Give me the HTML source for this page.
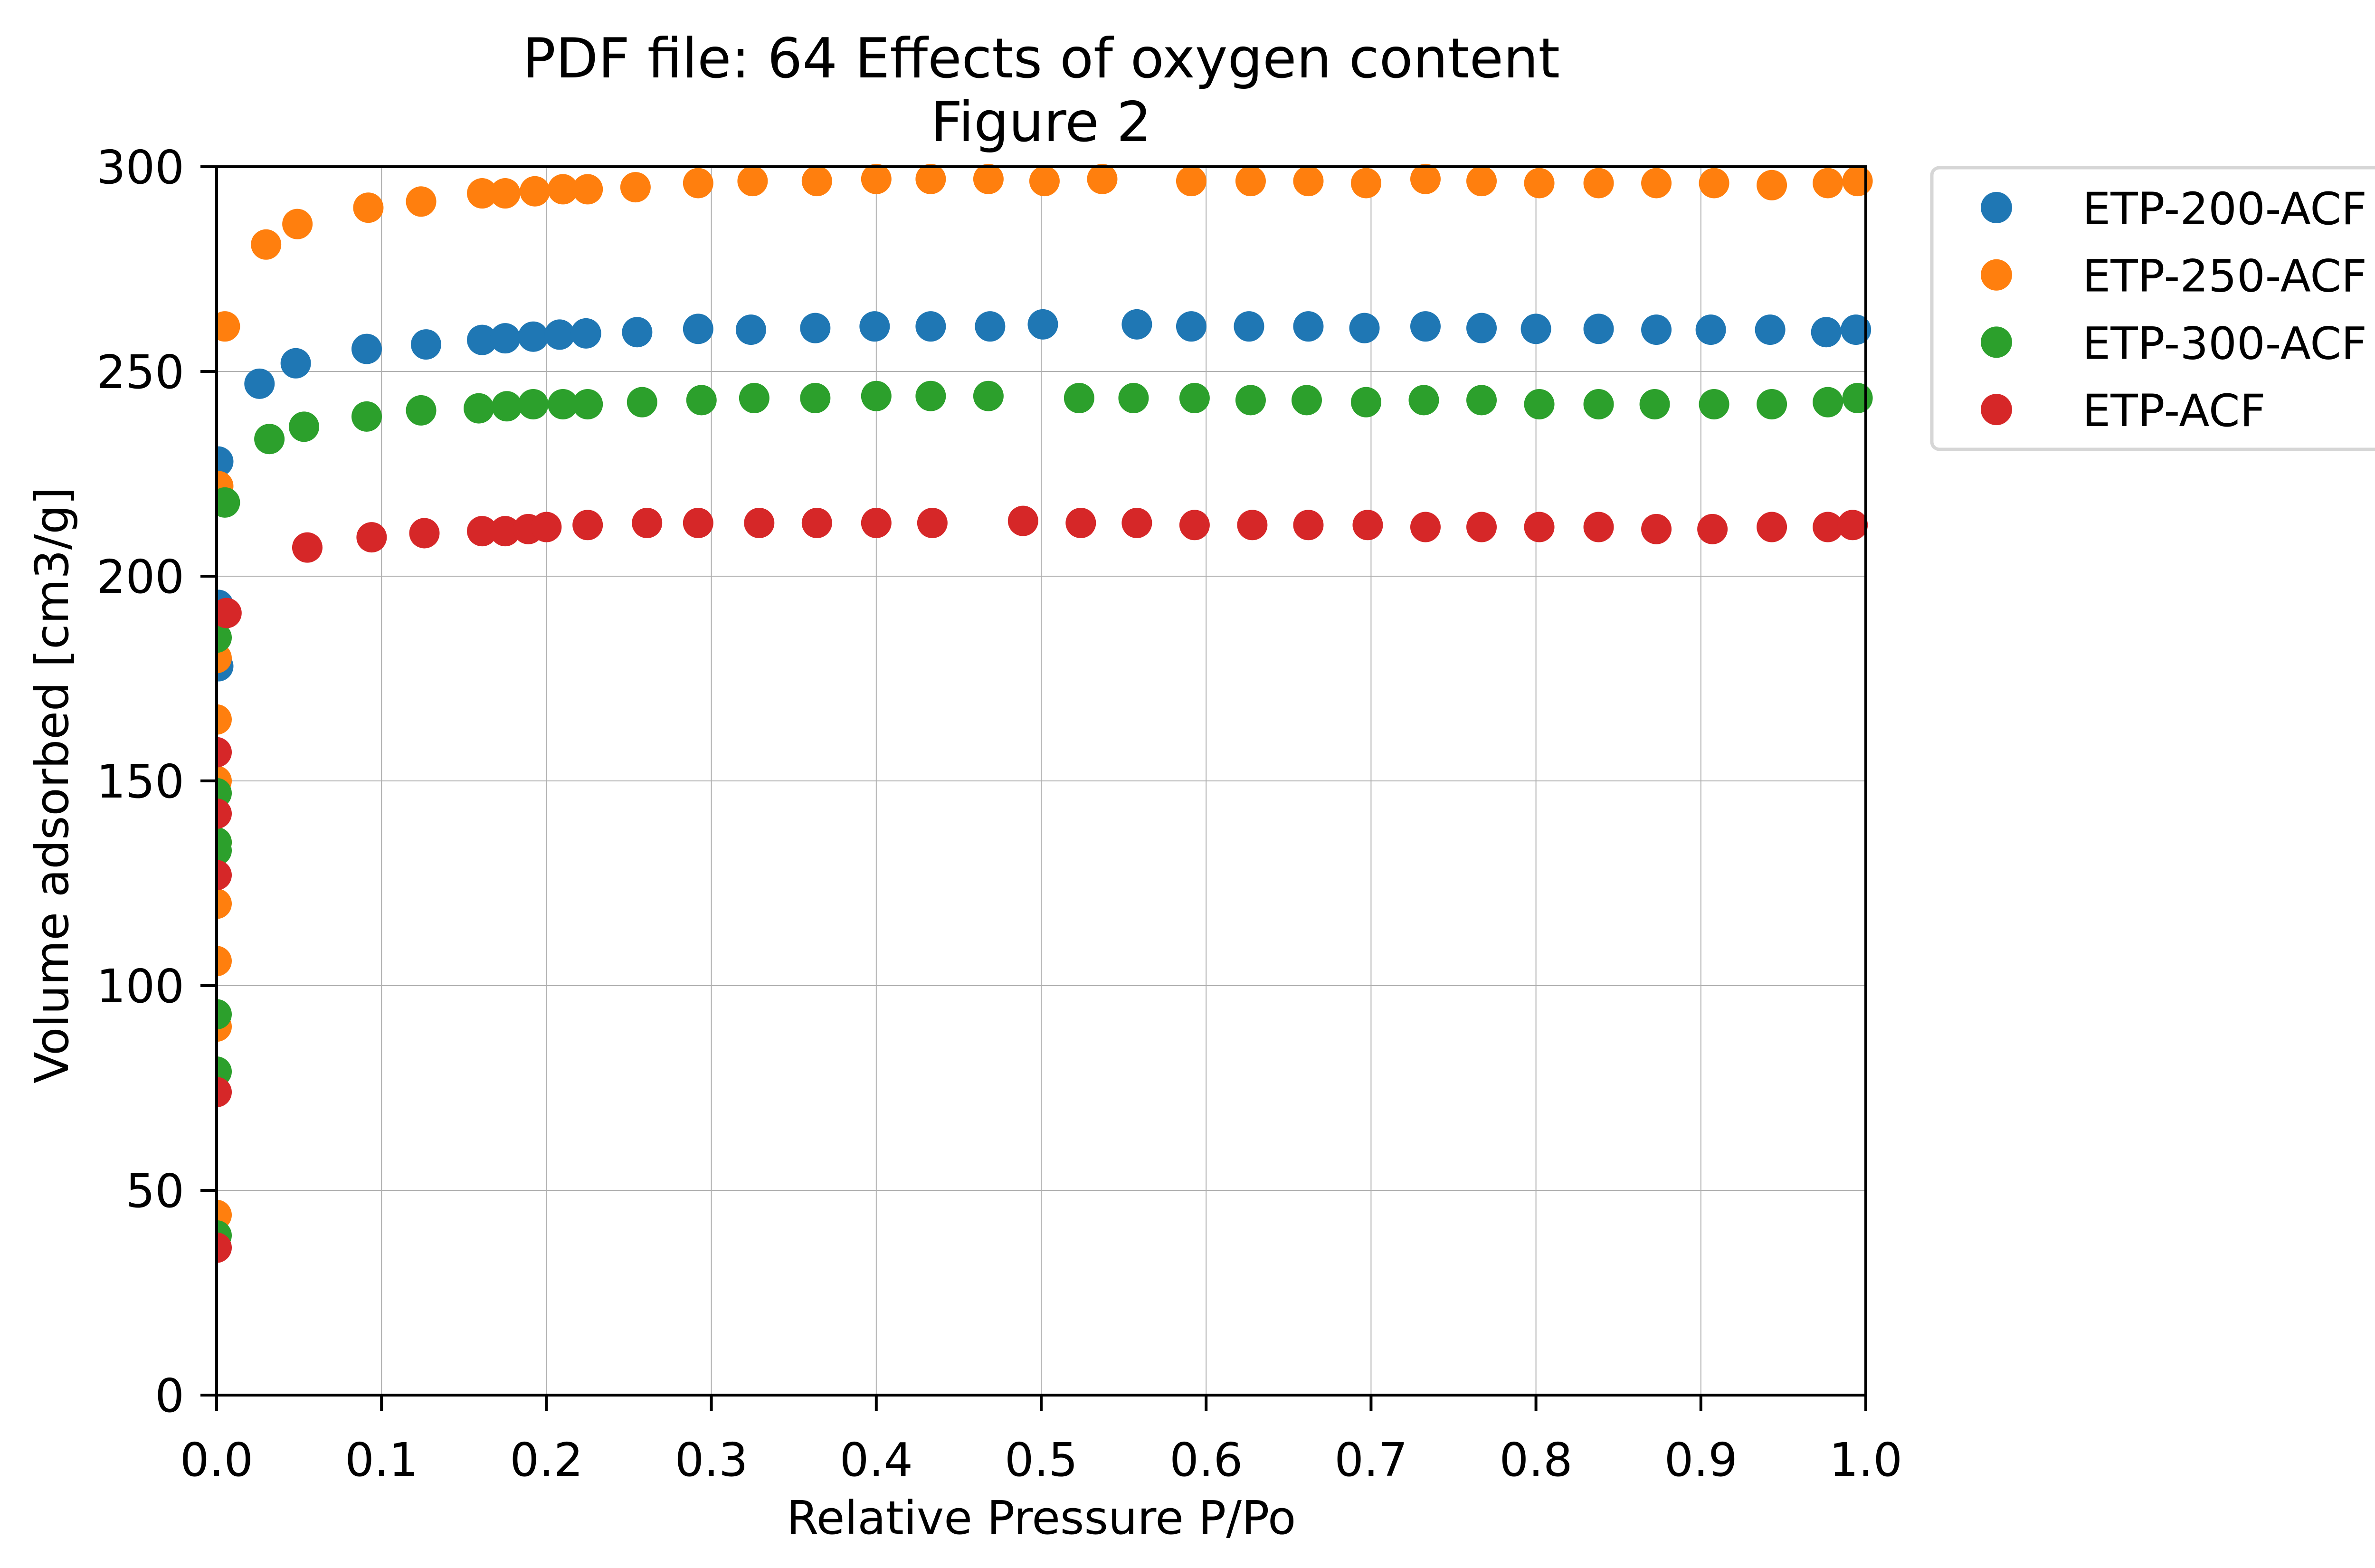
<!DOCTYPE html>
<html><head><meta charset="utf-8"><style>
html,body{margin:0;padding:0;background:#fff;}
svg{display:block;font-family:"DejaVu Sans","Liberation Sans",sans-serif;}
</style></head><body>
<svg id="chart" width="5106" height="3301" viewBox="0 0 5106 3301" xmlns="http://www.w3.org/2000/svg">
<rect width="5106" height="3301" fill="#fff"/>
<text x="2192" y="163" font-size="116" text-anchor="middle">PDF file: 64 Effects of oxygen content</text>
<text x="2192" y="297" font-size="116" text-anchor="middle">Figure 2</text>
<g id="grid"></g>
<g id="marks"></g>
<g id="axes"></g>
<text x="2192" y="3229" font-size="97" text-anchor="middle">Relative Pressure P/Po</text>
<text transform="translate(143,1653) rotate(-90)" font-size="97" text-anchor="middle">Volume adsorbed [cm3/g]</text>
<g id="legend"></g>
</svg>
<script>
const xTicks=[0,0.1,0.2,0.3,0.4,0.5,0.6,0.7,0.8,0.9,1.0];
const xTickLabels=["0.0","0.1","0.2","0.3","0.4","0.5","0.6","0.7","0.8","0.9","1.0"];
const yTicks=[0,50,100,150,200,250,300];
const yTickLabels=["0","50","100","150","200","250","300"];
const seriesNames=["ETP-200-ACF","ETP-250-ACF","ETP-300-ACF","ETP-ACF"];
const seriesColors=["#1f77b4","#ff7f0e","#2ca02c","#d62728"];
const x200=[0.001,0.001,0.001,0.026,0.048,0.091,0.127,0.161,0.175,0.192,0.208,0.224,0.255,0.292,0.324,0.363,0.399,0.433,0.469,0.501,0.558,0.591,0.626,0.662,0.696,0.733,0.767,0.8,0.838,0.873,0.906,0.942,0.976,0.994];
const y200=[178,193,228,247,252,255.5,256.6,257.7,258.1,258.5,259,259.3,259.6,260.4,260.2,260.6,261,261,261,261.5,261.5,261,261,261,260.6,261,260.6,260.4,260.4,260.2,260.2,260.2,259.6,260.2];
const x250=[0,0,0,0,0,0,0,0,0.001,0.005,0.03,0.049,0.092,0.124,0.161,0.175,0.193,0.21,0.225,0.254,0.292,0.325,0.364,0.4,0.433,0.468,0.502,0.537,0.591,0.627,0.662,0.697,0.733,0.767,0.802,0.838,0.873,0.908,0.943,0.977,0.995];
const y250=[44,90,106,120,135,150,165,180,222,261,281,286,290,291.5,293.5,293.5,294,294.5,294.5,295,296,296.5,296.5,297,297,297,296.5,297,296.5,296.5,296.5,296,297,296.5,296,296,296,296,295.5,296,296.5];
const x300=[0,0,0,0,0,0,0,0.005,0.032,0.053,0.091,0.124,0.159,0.176,0.192,0.21,0.225,0.258,0.294,0.326,0.363,0.4,0.433,0.468,0.523,0.556,0.593,0.627,0.661,0.697,0.732,0.767,0.802,0.838,0.872,0.908,0.943,0.977,0.995];
const y300=[39,79,93,133,147,185,135,218,233.5,236.5,239,240.5,241,241.5,242,242,242,242.5,243,243.5,243.5,244,244,244,243.5,243.5,243.5,243,243,242.5,243,243,242,242,242,242,242,242.5,243.5];
const xACF=[0,0,0,0,0,0.006,0.055,0.094,0.126,0.161,0.175,0.189,0.2,0.225,0.261,0.292,0.329,0.364,0.4,0.434,0.489,0.524,0.558,0.593,0.628,0.662,0.698,0.733,0.767,0.802,0.838,0.873,0.907,0.943,0.977,0.992];
const yACF=[36,74,127,142,157,191,207,209.5,210.5,211,211,211.5,212,212.5,213,213,213,213,213,213,213.5,213,213,212.5,212.5,212.5,212.5,212,212,212,212,211.5,211.5,212,212,212.5];
const L=456,R=3928,T=351,B=2937;
const sx=v=>L+(v-0)/(1-0)*(R-L);
const sy=v=>B-(v-0)/(300-0)*(B-T);
const NS="http://www.w3.org/2000/svg";
function mk(tag,attrs,parent){const e=document.createElementNS(NS,tag);for(const k in attrs)e.setAttribute(k,attrs[k]);parent.appendChild(e);return e;}
const grid=document.getElementById('grid'),axes=document.getElementById('axes'),marks=document.getElementById('marks'),legend=document.getElementById('legend');
xTicks.forEach((t,i)=>{
  const gl=mk('line',{x1:sx(t),x2:sx(t),y1:T,y2:B,stroke:'#b0b0b0','stroke-width':2},grid);
  
  
  const tk=mk('line',{x1:sx(t),x2:sx(t),y1:B,y2:B+34,stroke:'#000','stroke-width':6},axes);
  
  
  const tl=mk('text',{x:sx(t),y:B+170,'font-size':97,'text-anchor':'middle'},axes);
  tl.textContent=xTickLabels[i];
  
  
});
yTicks.forEach((t,i)=>{
  const gl=mk('line',{x1:L,x2:R,y1:sy(t),y2:sy(t),stroke:'#b0b0b0','stroke-width':2},grid);
  
  
  const tk=mk('line',{x1:L-34,x2:L,y1:sy(t),y2:sy(t),stroke:'#000','stroke-width':6},axes);
  
  
  const tl=mk('text',{x:L-68,y:sy(t)+35,'font-size':97,'text-anchor':'end'},axes);
  tl.textContent=yTickLabels[i];
  
  
});
const frame=mk('rect',{x:L,y:T,width:R-L,height:B-T,fill:'none',stroke:'#000','stroke-width':6},axes);


const xs=[x200,x250,x300,xACF],ys=[y200,y250,y300,yACF];
const clip=mk('clipPath',{id:'pc'},marks);
mk('rect',{x:L,y:T-40,width:R-L+40,height:B-T+40},clip);
const mg=mk('g',{'clip-path':'url(#pc)'},marks);
xs.forEach((xa,s)=>{
  xa.forEach((xv,i)=>{
    const c=mk('circle',{cx:sx(xv),cy:sy(ys[s][i]),r:32,fill:seriesColors[s]},mg);
    
    
  });
});
const lb=mk('rect',{x:4067,y:353,width:966,height:593,rx:16,fill:'#fff',stroke:'#d6d6d6','stroke-width':7},legend);


seriesNames.forEach((n,i)=>{
  const y=437+i*141.7;
  const m=mk('circle',{cx:4203,cy:y,r:33,fill:seriesColors[i]},legend);
  
  
  const t=mk('text',{x:4384,y:y+35,'font-size':94},legend);
  t.textContent=n;
  
  
});
</script>
</body></html>
